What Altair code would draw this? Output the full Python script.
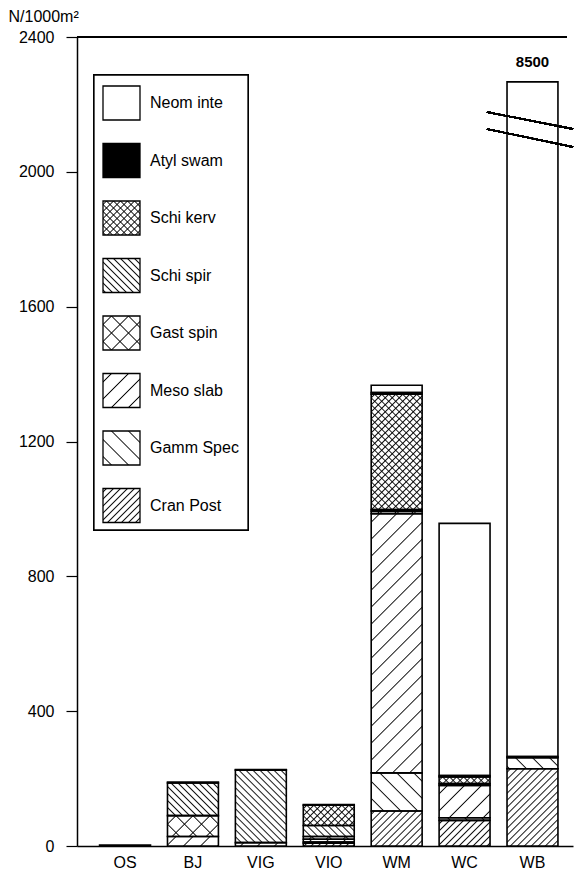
import base64
import math

import altair as alt
import pandas as pd

# Sites along the x axis and taxa stacked from the bottom up
sites = ["OS", "BJ", "VIG", "VIO", "WM", "WC", "WB"]
species = ["Cran Post", "Gamm Spec", "Meso slab", "Gast spin",
           "Schi spir", "Schi kerv", "Atyl swam", "Neom inte"]

# Densities, N per 1000 m²
cran_post = [0, 0, 0, 8, 104, 76, 229]
gamm_spec = [0, 0, 0, 4, 113, 8, 33]
meso_slab = [0, 28, 10, 8, 769, 96, 0]
gast_spin = [0, 62, 0, 8, 7, 5, 0]
schi_spir = [3, 97, 215, 33, 5, 0, 0]
schi_kerv = [0, 0, 0, 60, 342, 20, 0]
atyl_swam = [0, 3, 2, 2, 5, 4, 3]
neom_inte = [0, 0, 0, 0, 22, 748, 8235]

y_ticks = [0, 400, 800, 1200, 1600, 2000, 2400]
BREAK_AT = 2267  # bars taller than this are cut with an axis break

series = [cran_post, gamm_spec, meso_slab, gast_spin,
          schi_spir, schi_kerv, atyl_swam, neom_inte]


# ---- hatch fills, drawn as small SVG images -------------------------------
def _hatch(pid, angle, spacing, width):
    step = spacing / math.sqrt(2)
    return (f'<pattern id="{pid}" patternUnits="userSpaceOnUse" '
            f'width="{step:.3f}" height="{step:.3f}" patternTransform="rotate({angle})">'
            f'<line x1="{step / 2:.3f}" y1="-1" x2="{step / 2:.3f}" y2="{step + 1:.3f}" '
            f'stroke="#000" stroke-width="{width}"/></pattern>')


def pattern_url(kind, spacing=0, width=0.9):
    defs = []
    body = ['<rect width="100%" height="100%" fill="#fff"/>']
    if kind == "solid":
        body = ['<rect width="100%" height="100%" fill="#000"/>']
    if kind in ("fwd", "cross"):
        defs.append(_hatch("a", 45, spacing, width))
        body.append('<rect width="100%" height="100%" fill="url(#a)"/>')
    if kind in ("back", "cross"):
        defs.append(_hatch("b", -45, spacing, width))
        body.append('<rect width="100%" height="100%" fill="url(#b)"/>')
    svg = ('<svg xmlns="http://www.w3.org/2000/svg" width="100%" height="100%">'
           f'<defs>{"".join(defs)}</defs>{"".join(body)}</svg>')
    return "data:image/svg+xml;base64," + base64.b64encode(svg.encode()).decode()


fills = {
    "Neom inte": pattern_url("blank"),
    "Atyl swam": pattern_url("solid"),
    "Schi kerv": pattern_url("cross", 7),
    "Schi spir": pattern_url("back", 7),
    "Gast spin": pattern_url("cross", 17),
    "Meso slab": pattern_url("fwd", 17),
    "Gamm Spec": pattern_url("back", 17),
    "Cran Post": pattern_url("fwd", 7),
}

rows = []
for k, (name, vals) in enumerate(zip(species, series)):
    for site, v in zip(sites, vals):
        rows.append({"site": site, "species": name, "order": k, "val": v,
                     "url": fills[name]})
df = pd.DataFrame(rows)

FONT = "Liberation Sans"
FS = 16
W, H = 496, 809

x_enc = alt.X("site:N", sort=sites,
              scale=alt.Scale(paddingInner=0.25, paddingOuter=0.277, align=0.6),
              axis=alt.Axis(title=None, labelAngle=0, ticks=False, labelFont=FONT,
                            labelFontSize=FS, labelColor="black", labelPadding=8,
                            domainColor="black", domainWidth=1.5))
y_scale = alt.Scale(domain=[0, 2400], nice=False)

stacked = (alt.Chart(df)
           .transform_filter("datum.val > 0")
           .transform_stack(stack="val", groupby=["site"], as_=["y0", "y1"],
                            sort=[alt.SortField("order", order="ascending")])
           .transform_calculate(top=f"min(datum.y1, {BREAK_AT})"))

hatches = stacked.mark_image(aspect=False).encode(
    x=x_enc,
    y=alt.Y("y0:Q", scale=y_scale,
            axis=alt.Axis(values=y_ticks, format="d", title="N/1000m²",
                          titleAngle=0, titleX=-69, titleY=-16, titleAlign="left",
                          titleBaseline="alphabetic", titleFont=FONT,
                          titleFontSize=FS, titleFontWeight="normal",
                          titleColor="black", labelFont=FONT, labelFontSize=FS,
                          labelColor="black", tickSize=11, tickColor="black",
                          tickWidth=1.2, labelPadding=12, domainColor="black",
                          domainWidth=1.5, grid=False)),
    y2="top:Q",
    url="url:N",
)

outlines = stacked.mark_bar(fillOpacity=0, stroke="black", strokeWidth=1.6).encode(
    x=alt.X("site:N", sort=sites), y=alt.Y("y0:Q", scale=y_scale), y2="top:Q")

totals = (alt.Chart(df)
          .transform_aggregate(total="sum(val)", groupby=["site"])
          .transform_filter(f"datum.total > {BREAK_AT}")
          .transform_calculate(ytop=f"min(datum.total, {BREAK_AT})"))
total_label = totals.mark_text(dy=-20, font=FONT, fontSize=15, fontWeight="bold",
                               color="black").encode(
    x=alt.X("site:N", sort=sites), y=alt.Y("ytop:Q", scale=y_scale),
    text=alt.Text("total:Q", format="d"))

# axis-break strokes across the cut bar
break1 = alt.Chart(df).mark_rule(color="black", strokeWidth=1.3).encode(
    x=alt.value(410), x2=alt.value(496), y=alt.value(75), y2=alt.value(92))
break2 = alt.Chart(df).mark_rule(color="black", strokeWidth=1.3).encode(
    x=alt.value(410), x2=alt.value(496), y=alt.value(92), y2=alt.value(110))

# top frame line
frame_top = alt.Chart(df).mark_rule(color="black", strokeWidth=1.3).encode(
    x=alt.value(0), x2=alt.value(490), y=alt.value(0))

# ---- legend box ----------------------------------------------------------
legend_df = pd.DataFrame({"species": species[::-1]})
legend_df["url"] = legend_df["species"].map(fills)
legend_df["i"] = range(len(legend_df))

leg = alt.Chart(legend_df).transform_calculate(
    cy="66 + datum.i * 57.5", sy0="datum.cy - 17", sy1="datum.cy + 17")

leg_box = alt.Chart(legend_df).mark_rect(fill="white", stroke="black",
                                         strokeWidth=1.3).encode(
    x=alt.value(17), x2=alt.value(171), y=alt.value(38), y2=alt.value(493))
leg_swatch = leg.mark_image(aspect=False).encode(
    x=alt.value(26), x2=alt.value(63),
    y=alt.Y("sy0:Q", scale=None), y2="sy1:Q", url="url:N")
leg_outline = leg.mark_rect(fillOpacity=0, stroke="black", strokeWidth=1.3).encode(
    x=alt.value(26), x2=alt.value(63),
    y=alt.Y("sy0:Q", scale=None), y2="sy1:Q")
leg_text = leg.mark_text(align="left", baseline="middle", font=FONT, fontSize=FS,
                         color="black").encode(
    x=alt.value(73), y=alt.Y("cy:Q", scale=None), text="species:N")

chart = (alt.layer(hatches, outlines, total_label, break1, break2, frame_top,
                   leg_box, leg_swatch, leg_outline, leg_text)
         .properties(width=W, height=H,
                     autosize=alt.AutoSizeParams(type="none"),
                     padding={"left": 77, "top": 37, "right": 5, "bottom": 30},
                     background="white")
         .configure_view(stroke=None))

chart.save("out.html", embed_options={"renderer": "svg", "actions": False})
